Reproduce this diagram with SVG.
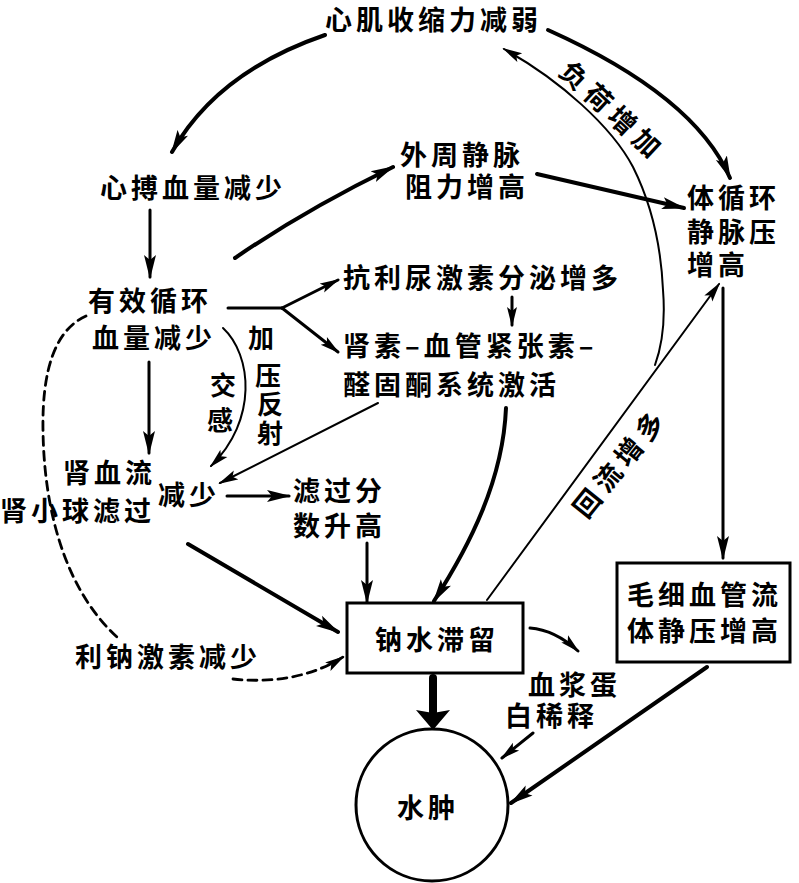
<svg xmlns="http://www.w3.org/2000/svg" width="799" height="883" viewBox="0 0 799 883">
<style>
.t{font-family:"Noto Sans CJK SC","Noto Sans CJK JP",sans-serif;font-size:27px;font-weight:700;letter-spacing:4px;fill:#000}
.v{font-size:26px;letter-spacing:0}
.c{fill:none;stroke:#000;stroke-linecap:round}
.k{stroke-width:4}
.m{stroke-width:3}
.n{stroke-width:2}
.d{stroke-width:2.8;stroke-dasharray:9 6}
.box{fill:#fff;stroke:#000;stroke-width:3}
</style>
<defs>
<marker id="ah" markerUnits="userSpaceOnUse" markerWidth="24" markerHeight="14" refX="22" refY="7" orient="auto">
<path d="M0,1 L24,7 L0,13 L5,7 z" fill="#000"/>
</marker>
<marker id="ahs" markerUnits="userSpaceOnUse" markerWidth="20" markerHeight="12" refX="18" refY="6" orient="auto">
<path d="M0,1 L20,6 L0,11 L4,6 z" fill="#000"/>
</marker>
<marker id="ahw" markerUnits="userSpaceOnUse" markerWidth="20" markerHeight="34" refX="19" refY="17" orient="auto">
<path d="M0,0 L20,17 L0,34 L3,17 z" fill="#000"/>
</marker>
</defs>

<g id="connectors">
<path class="c k" d="M325 35 Q217 72 172 152" marker-end="url(#ah)"/>
<path class="c k" d="M548 30 Q695 96 730 178" marker-end="url(#ah)"/>
<path class="c n" d="M655 365 C664 340 665 315 663 290 C661 245 652 205 633 167 C612 127 560 80 504 49" marker-end="url(#ahs)"/>
<path class="c m" d="M150 210 L150 277" marker-end="url(#ah)"/>
<path class="c k" d="M235 258 Q305 210 393 167" marker-end="url(#ah)"/>
<path class="c k" d="M537 174 L684 208" marker-end="url(#ah)"/>
<path class="c m" d="M228 308 L282 308"/>
<path class="c m" d="M282 308 L338 280" marker-end="url(#ahs)"/>
<path class="c m" d="M282 308 L338 352" marker-end="url(#ahs)"/>
<path class="c m" d="M512 297 L512 325" marker-end="url(#ahs)"/>
<path class="c m" d="M149 362 L149 453" marker-end="url(#ah)"/>
<path class="c n" d="M223 328 C252 355 258 420 211 466" marker-end="url(#ahs)"/>
<path class="c n" d="M378 403 L220 483" marker-end="url(#ahs)"/>
<path class="c m" d="M227 496 L289 496" marker-end="url(#ah)"/>
<path class="c m" d="M367 543 L367 602" marker-end="url(#ah)"/>
<path class="c k" d="M188 544 L338 632" marker-end="url(#ah)"/>
<path class="c k" d="M506 408 C503 480 470 545 434 601" marker-end="url(#ah)"/>
<path class="c n" d="M487 600 L719 284" marker-end="url(#ahs)"/>
<path class="c m" d="M723 288 L723 558" marker-end="url(#ah)"/>
<path class="c m" d="M530 628 Q555 630 578 651" marker-end="url(#ahs)"/>
<path class="c" stroke-width="8" stroke-linecap="butt" d="M433 678 L433 712"/>
<path class="c" stroke-width="1" d="M433 712 L433 729" marker-end="url(#ahw)"/>
<path class="c m" d="M533 733 L502 758" marker-end="url(#ahs)"/>
<path class="c k" d="M707 667 L511 803" marker-end="url(#ah)"/>
<path class="c d" d="M86 316 C55 330 42 370 43 430 C44 510 65 590 118 638"/>
<path class="c d" d="M233 679 C270 683 310 678 343 657" marker-end="url(#ahs)"/>
</g>

<g id="n_xinji"><text class="t" x="325" y="30">心肌收缩力减弱</text></g>
<g id="n_fuhe"><text class="t" transform="translate(612,112) rotate(43)" text-anchor="middle" y="9" style="letter-spacing:6px">负荷增加</text></g>
<g id="n_xinbo"><text class="t" x="100" y="198">心搏血量减少</text></g>
<g id="n_waizhou"><text class="t" x="400" y="165">外周静脉</text><text class="t" x="405" y="197">阻力增高</text></g>
<g id="n_tixunhuan"><text class="t" x="687" y="208">体循环</text><text class="t" x="687" y="242">静脉压</text><text class="t" x="687" y="275">增高</text></g>
<g id="n_youxiao"><text class="t" x="88" y="311">有效循环</text><text class="t" x="92" y="348">血量减少</text></g>
<g id="n_kangliniao"><text class="t" x="343" y="288">抗利尿激素分泌增多</text></g>
<g id="n_shensu"><text class="t" x="343" y="356">肾素–血管紧张素–</text><text class="t" x="343" y="395">醛固酮系统激活</text></g>
<g id="n_jiaya"><text class="t v" text-anchor="middle"><tspan x="261" y="348">加</tspan><tspan x="268" y="385">压</tspan><tspan x="270" y="414">反</tspan><tspan x="270" y="443">射</tspan></text></g>
<g id="n_jiaogan"><text class="t v" text-anchor="middle"><tspan x="223" y="395">交</tspan><tspan x="220" y="430">感</tspan></text></g>
<g id="n_shenxueliu"><text class="t" x="63" y="483">肾血流</text><text class="t" x="0" y="521">肾小球滤过</text><text class="t" x="158" y="505">减少</text></g>
<g id="n_lvguo"><text class="t" x="293" y="501">滤过分</text><text class="t" x="293" y="536">数升高</text></g>
<g id="n_huiliu"><text class="t" transform="translate(621,463) rotate(-51)" text-anchor="middle" y="9" style="letter-spacing:6px">回流增多</text></g>
<g id="n_nashui"><rect class="box" x="347" y="603" width="176" height="70"/><text class="t" x="375" y="650">钠水滞留</text></g>
<g id="n_maoxi"><rect class="box" x="617" y="563" width="173" height="99"/><text class="t" x="627" y="605">毛细血管流</text><text class="t" x="627" y="641">体静压增高</text></g>
<g id="n_xuejiang"><text class="t" x="528" y="695">血浆蛋</text><text class="t" x="505" y="726">白稀释</text></g>
<g id="n_lina"><text class="t" x="75" y="667">利钠激素减少</text></g>
<g id="n_shuizhong"><circle class="box" cx="432" cy="805" r="76"/><text class="t" x="397" y="818">水肿</text></g>
</svg>
